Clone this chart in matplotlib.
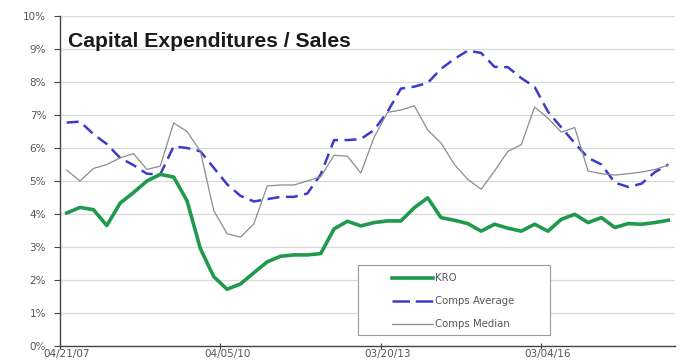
import matplotlib
matplotlib.use("Agg")
import matplotlib.pyplot as plt
from matplotlib.lines import Line2D
from matplotlib.patches import Rectangle
import numpy as np

# Quarterly capital expenditures as % of sales
kro = [4.03, 4.20, 4.13, 3.65, 4.33, 4.65, 5.00, 5.20, 5.12, 4.40,
       2.95, 2.10, 1.72, 1.88, 2.22, 2.55, 2.72, 2.76, 2.76, 2.80,
       3.55, 3.78, 3.64, 3.74, 3.79, 3.79, 4.19, 4.49, 3.89, 3.81,
       3.71, 3.48, 3.69, 3.57, 3.48, 3.69, 3.48, 3.84, 3.99, 3.74,
       3.89, 3.59, 3.71, 3.69, 3.74, 3.81]
comps_avg = [6.77, 6.80, 6.42, 6.12, 5.70, 5.48, 5.22, 5.20, 6.05, 6.00,
             5.90, 5.40, 4.90, 4.55, 4.38, 4.45, 4.52, 4.52, 4.62, 5.20,
             6.24, 6.24, 6.27, 6.55, 7.10, 7.80, 7.86, 7.97, 8.40, 8.70,
             8.95, 8.88, 8.46, 8.45, 8.12, 7.85, 7.10, 6.62, 6.15, 5.70,
             5.50, 4.95, 4.82, 4.92, 5.27, 5.50]
comps_med = [5.33, 5.00, 5.38, 5.50, 5.70, 5.83, 5.35, 5.45, 6.76, 6.50,
             5.90, 4.10, 3.40, 3.30, 3.70, 4.85, 4.88, 4.88, 5.00, 5.13,
             5.78, 5.75, 5.24, 6.33, 7.08, 7.15, 7.28, 6.55, 6.15, 5.50,
             5.05, 4.75, 5.30, 5.90, 6.10, 7.24, 6.90, 6.48, 6.62, 5.30,
             5.22, 5.18, 5.22, 5.27, 5.35, 5.48]
series_names = ["KRO", "Comps Average", "Comps Median"]
date_labels = ["04/21/07", "04/05/10", "03/20/13", "03/04/16"]
label_idx = [0, 12, 24, 36]
y_ticks = list(range(0, 11))

W, H = 680, 362
AX_L, AX_B, AX_W, AX_H = 60, 346, 615, 330

fig = plt.figure(figsize=(W / 100, H / 100), dpi=100)
ax = fig.add_axes([AX_L / W, 1 - AX_B / H, AX_W / W, AX_H / H])


def ax_xy(px, py):
    """Pixel position in the figure -> axes fraction."""
    return (px - AX_L) / AX_W, (AX_B - py) / AX_H


styles = [
    dict(color="#1f9a4c", lw=2.6, solid_joinstyle="round", zorder=3),
    dict(color="#3c3cc8", lw=1.8, dashes=(4.8, 2.6), zorder=2),
    dict(color="#8c8c8c", lw=0.9, zorder=2),
]

x = np.arange(len(kro))
for vals, st in zip([kro, comps_avg, comps_med], styles):
    ax.plot(x, vals, **st)

ax.set_xlim(-0.5, len(kro) - 0.5)
ax.set_ylim(0, 10)
ax.set_yticks(y_ticks)
ax.set_yticklabels([f"{v}%" for v in y_ticks], fontsize=7.5, color="#555555")
ax.yaxis.grid(True, color="#d9d9d9", lw=0.9)
ax.set_axisbelow(True)
ax.tick_params(axis="y", length=4, width=0.8, color="#444444", pad=6)

# tick marks sit between categories, labels sit on the dated points
ax.set_xticks([i - 0.5 for i in label_idx])
ax.set_xticklabels([])
ax.tick_params(axis="x", direction="inout", length=5, width=0.8, color="#444444")
_, lab_y = ax_xy(0, 349)
for i, lab in zip(label_idx, date_labels):
    ax.text(i, lab_y * 10, lab, ha="center", va="top", fontsize=7.5, color="#555555",
            transform=ax.transData, clip_on=False)

for side in ("top", "right"):
    ax.spines[side].set_visible(False)
for side in ("left", "bottom"):
    ax.spines[side].set_color("#444444")
    ax.spines[side].set_linewidth(1.0)

tx, ty = ax_xy(68, 47)
ax.text(tx, ty, "Capital Expenditures / Sales", transform=ax.transAxes,
        fontsize=15.2, fontweight="bold", color="#1a1a1a", family="Liberation Sans",
        va="baseline", ha="left")

# legend box
bx0, by0 = ax_xy(358, 335)
bx1, by1 = ax_xy(550, 265)
ax.add_patch(Rectangle((bx0, by0), bx1 - bx0, by1 - by0, transform=ax.transAxes,
                       facecolor="white", edgecolor="#999999", lw=0.8, zorder=5))
for name, st, py in zip(series_names, styles, [278, 301, 324]):
    lx0, ly = ax_xy(392, py)
    lx1, _ = ax_xy(433, py)
    kw = {k: v for k, v in st.items() if k != "zorder"}
    if "dashes" in kw:
        kw["dashes"] = (7, 2.3)
    ax.add_line(Line2D([lx0, lx1], [ly, ly], transform=ax.transAxes, zorder=6, **kw))
    txx, _ = ax_xy(435, py)
    ax.text(txx, ly, name, transform=ax.transAxes, fontsize=7.3, color="#555555",
            va="center", ha="left", zorder=6)

fig.savefig("out.png", dpi=100)
